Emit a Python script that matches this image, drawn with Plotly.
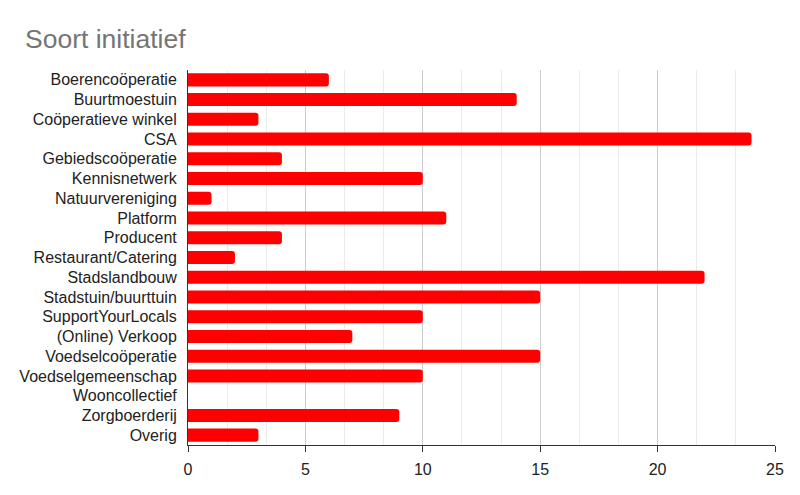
import plotly.graph_objects as go

categories = [
    "Boerencoöperatie", "Buurtmoestuin", "Coöperatieve winkel", "CSA",
    "Gebiedscoöperatie", "Kennisnetwerk", "Natuurvereniging", "Platform",
    "Producent", "Restaurant/Catering", "Stadslandbouw", "Stadstuin/buurttuin",
    "SupportYourLocals", "(Online) Verkoop", "Voedselcoöperatie",
    "Voedselgemeenschap", "Wooncollectief", "Zorgboerderij", "Overig",
]
counts = [6, 14, 3, 24, 4, 10, 1, 11, 4, 2, 22, 15, 10, 7, 15, 10, 0, 9, 3]

fig = go.Figure(
    go.Bar(
        x=counts,
        y=categories,
        orientation="h",
        marker=dict(color="#ff0000", cornerradius=3, line=dict(width=0)),
        width=0.66,
    )
)

# the page adds an 8px body margin, so offsets below are shifted by 8
fig.update_layout(
    width=800,
    height=495,
    template="plotly_white",
    plot_bgcolor="white",
    font=dict(family="Liberation Sans, Arial", size=16, color="#222222"),
    title=dict(
        text="Soort initiatief",
        x=17 / 800,
        xanchor="left",
        y=1 - 31 / 495,
        yanchor="middle",
        font=dict(size=26.5, color="#757575"),
    ),
    margin=dict(l=180, r=33, t=62, b=58),
    showlegend=False,
)

fig.update_xaxes(
    range=[0, 25],
    dtick=5,
    showgrid=True,
    gridcolor="#cccccc",
    gridwidth=1,
    minor=dict(dtick=5 / 3, showgrid=True, gridcolor="#ebebeb", gridwidth=1),
    showline=True,
    linecolor="#333333",
    linewidth=1,
    ticks="outside",
    ticklen=6,
    tickcolor="#333333",
    ticklabelstandoff=4,
    zeroline=False,
    automargin=False,
    tickfont=dict(size=16, color="#222222"),
)
fig.update_yaxes(
    autorange="reversed",
    showgrid=False,
    showline=True,
    linecolor="#333333",
    linewidth=1,
    ticks="",
    ticklabelstandoff=7,
    automargin=False,
    tickfont=dict(size=16, color="#222222"),
)

fig.write_html("out.html")
